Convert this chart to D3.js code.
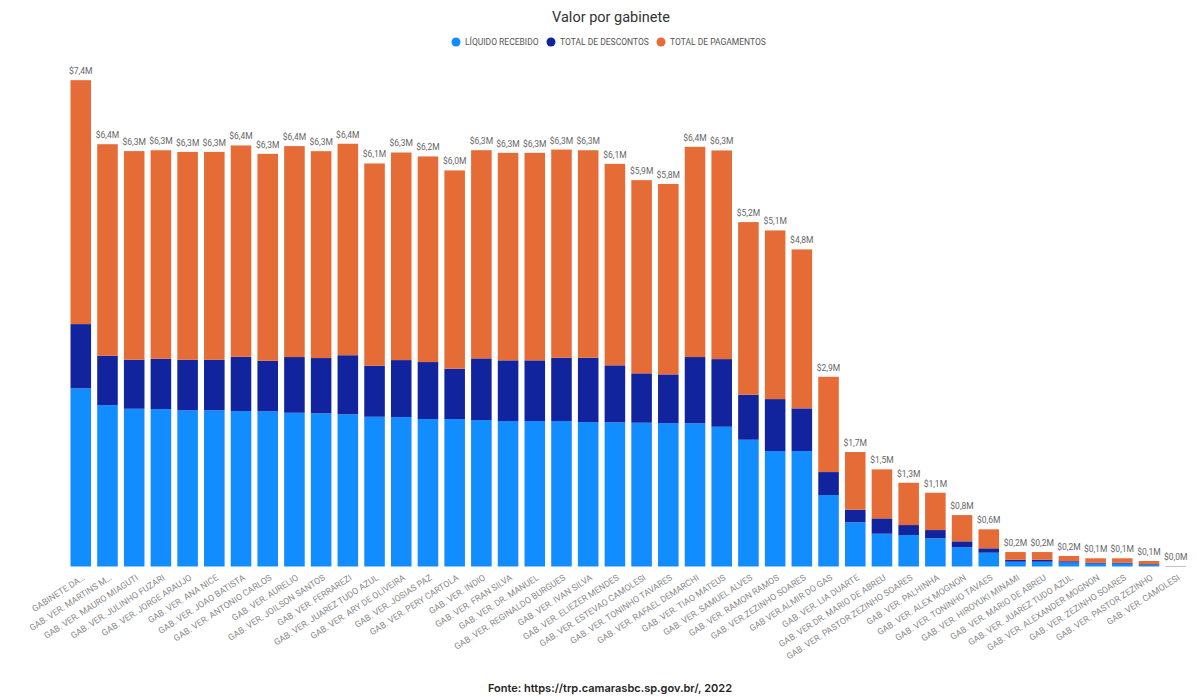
<!DOCTYPE html>
<html>
<head>
<meta charset="utf-8">
<script src="https://cdn.jsdelivr.net/npm/d3@7.9.0/dist/d3.min.js"></script>
<style>
  body { margin: 0; background: #fff; }
  svg { display: block; font-family: Roboto, "DejaVu Sans", sans-serif; }
</style>
</head>
<body>
<svg id="chart" width="1197" height="697"></svg>
<script>
// gabinetes, in the order shown
const gabinetes = [
  'GABINETE DA…', 'GAB. VER. MARTINS M…', 'GAB. VER. MAURO MIAGUTI', 'GAB. VER. JULINHO FUZARI',
  'GAB. VER. JORGE ARAUJO', 'GAB. VER. ANA NICE', 'GAB. VER. JOAO BATISTA', 'GAB. VER. ANTONIO CARLOS',
  'GAB. VER. AURELIO', 'GAB. VER. JOILSON SANTOS', 'GAB. VER. FERRAREZI', 'GAB. VER. JUAREZ TUDO AZUL',
  'GAB. VER. ARY DE OLIVEIRA', 'GAB. VER. JOSIAS PAZ', 'GAB. VER. PERY CARTOLA', 'GAB. VER. INDIO',
  'GAB. VER. FRAN SILVA', 'GAB. VER. DR. MANUEL', 'GAB. VER. REGINALDO BURGUES', 'GAB. VER. IVAN SILVA',
  'GAB. VER. ELIEZER MENDES', 'GAB. VER. ESTEVAO CAMOLESI', 'GAB. VER. TONINHO TAVARES', 'GAB. VER. RAFAEL DEMARCHI',
  'GAB. VER. TIAO MATEUS', 'GAB. VER. SAMUEL ALVES', 'GAB. VER. RAMON RAMOS', 'GAB. VER.ZEZINHO SOARES',
  'GAB VER.ALMIR DO GAS', 'GAB. VER. LIA DUARTE', 'GAB. VER.DR. MARIO DE ABREU', 'GAB. VER. PASTOR ZEZINHO SOARES',
  'GAB. VER. PALHINHA', 'GAB. VER. ALEX MOGNON', 'GAB. VER. TONINHO TAVAES', 'GAB. VER. HIROYUKI MINAMI',
  'GAB. VER. MARIO DE ABREU', 'GAB. VER. JUAREZ TUDO AZUL ', 'GAB. VER. ALEXANDER MOGNON', 'GAB. VER. ZEZINHO SOARES',
  'GAB. VER. PASTOR ZEZINHO', 'GAB. VER. CAMOLESI'
];

// values in millions of R$
const liquido = [
  2.712, 2.458, 2.402, 2.397, 2.377, 2.377, 2.367, 2.362, 2.341, 2.332, 2.317, 2.280, 2.275, 2.245,
  2.245, 2.230, 2.215, 2.215, 2.215, 2.199, 2.195, 2.189, 2.184, 2.180, 2.128, 1.930, 1.758, 1.758,
  1.088, 0.673, 0.499, 0.479, 0.429, 0.292, 0.210, 0.073, 0.073, 0.060, 0.043, 0.043, 0.023, 0.003
];
const descontos = [
  0.979, 0.750, 0.746, 0.766, 0.770, 0.770, 0.826, 0.770, 0.848, 0.842, 0.900, 0.776, 0.868, 0.868,
  0.766, 0.939, 0.924, 0.924, 0.963, 0.979, 0.868, 0.752, 0.741, 1.009, 1.030, 0.685, 0.791, 0.650,
  0.350, 0.192, 0.234, 0.152, 0.126, 0.091, 0.067, 0.030, 0.030, 0.020, 0.015, 0.015, 0.011, 0.001
];
const pagamentos = [
  3.714, 3.222, 3.177, 3.175, 3.166, 3.166, 3.218, 3.151, 3.212, 3.150, 3.220, 3.081, 3.161, 3.131,
  3.020, 3.170, 3.160, 3.160, 3.170, 3.160, 3.068, 2.942, 2.900, 3.201, 3.177, 2.629, 2.568, 2.420,
  1.451, 0.878, 0.746, 0.644, 0.568, 0.400, 0.289, 0.117, 0.117, 0.080, 0.067, 0.067, 0.050, 0.004
];

const series = ['LÍQUIDO RECEBIDO', 'TOTAL DE DESCONTOS', 'TOTAL DE PAGAMENTOS'];
const colors = ['#118DFF', '#12239E', '#E66C37'];
const yMax = 7.4;

const rows = gabinetes.map((g, i) => ({
  gab: g, liq: liquido[i], desc: descontos[i], pag: pagamentos[i]
}));
const keys = ['liq', 'desc', 'pag'];
const stacked = d3.stack().keys(keys)(rows);

const svg = d3.select('#chart');

const x = d3.scaleBand()
  .domain(gabinetes)
  .range([70.5, 1186])
  .paddingInner(0.23)
  .paddingOuter(0);

const y = d3.scaleLinear().domain([0, yMax]).range([566.5, 80.5]);

// bars
svg.append('g')
  .selectAll('g')
  .data(stacked)
  .join('g')
  .attr('fill', (d, i) => colors[i])
  .selectAll('rect')
  .data(d => d)
  .join('rect')
  .attr('x', d => x(d.data.gab))
  .attr('width', x.bandwidth())
  .attr('y', d => y(d[1]))
  .attr('height', d => Math.max(0, y(d[0]) - y(d[1])));

// total labels
const fmt = v => '$' + d3.format('.1f')(v).replace('.', ',') + 'M';
svg.append('g')
  .selectAll('text')
  .data(rows)
  .join('text')
  .attr('x', d => x(d.gab) + x.bandwidth() / 2)
  .attr('y', d => y(d.liq + d.desc + d.pag) - 6)
  .attr('text-anchor', 'middle')
  .attr('font-size', 8.5)
  .attr('fill', '#666')
  .text(d => fmt(d.liq + d.desc + d.pag));

// x axis
const xAxis = svg.append('g')
  .attr('transform', 'translate(0,566.5)')
  .call(d3.axisBottom(x).tickSize(0).tickFormat(d => d.trim()));
xAxis.select('.domain').remove();
xAxis.selectAll('text')
  .attr('x', 0)
  .attr('y', 0)
  .attr('dy', '0.35em')
  .attr('text-anchor', 'end')
  .attr('transform', 'translate(3,10) rotate(-33)')
  .attr('font-size', 8.8)
  .attr('font-family', 'Roboto, sans-serif')
  .attr('fill', '#888');

// title
svg.append('text')
  .attr('x', 611).attr('y', 22)
  .attr('text-anchor', 'middle')
  .attr('font-size', 14.5)
  .attr('fill', '#333')
  .text('Valor por gabinete');

// legend
const legendX = [456, 551, 661];
const legend = svg.append('g');
series.forEach((s, i) => {
  legend.append('circle')
    .attr('cx', legendX[i]).attr('cy', 42).attr('r', 4.5)
    .attr('fill', colors[i]);
  legend.append('text')
    .attr('x', legendX[i] + 9).attr('y', 45)
    .attr('font-size', 8.5)
    .attr('fill', '#555')
    .text(s);
});

// source
svg.append('text')
  .attr('x', 610).attr('y', 692)
  .attr('text-anchor', 'middle')
  .attr('font-family', 'Inter, sans-serif')
  .attr('font-weight', 600)
  .attr('font-size', 11)
  .attr('fill', '#252423')
  .text('Fonte: https://trp.camarasbc.sp.gov.br/, 2022');
</script>
</body>
</html>
